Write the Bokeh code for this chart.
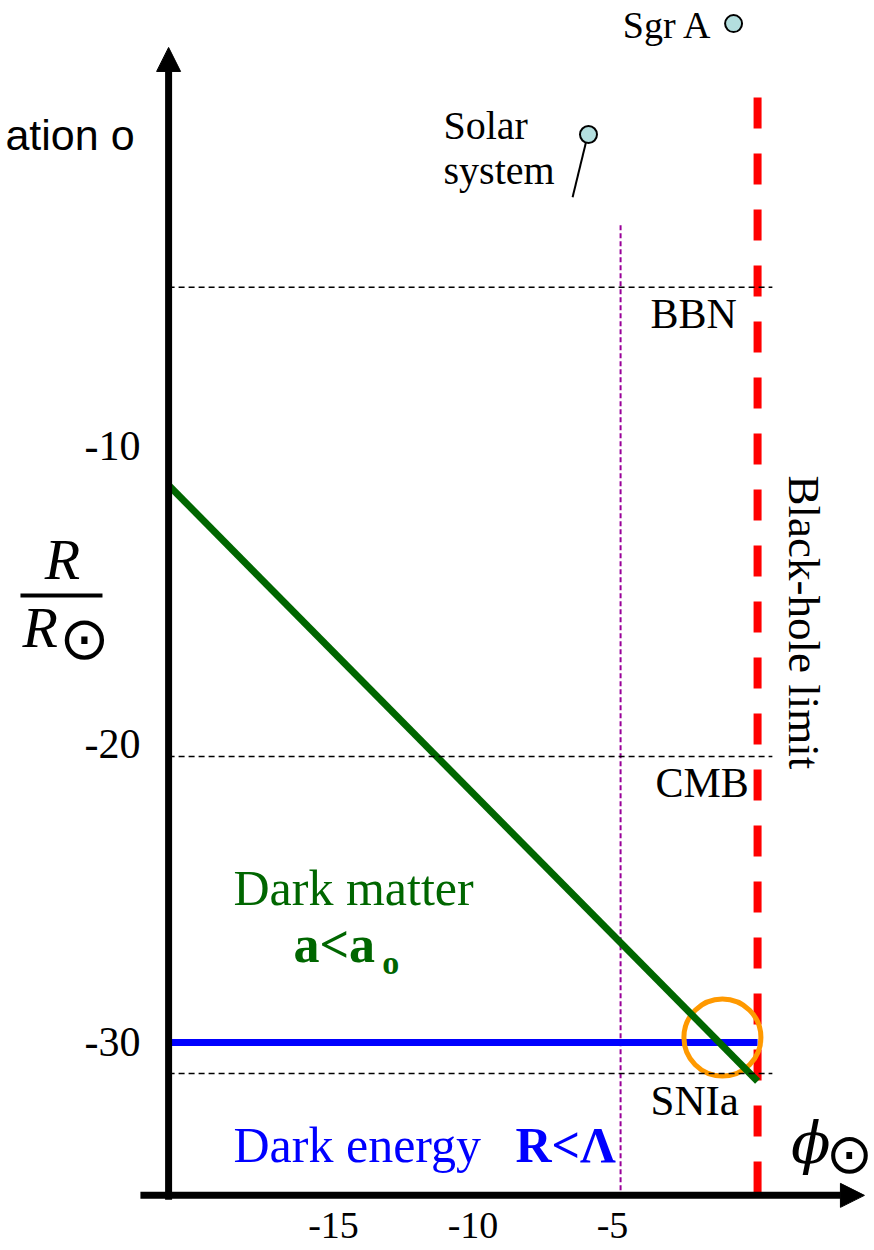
from bokeh.plotting import figure
from bokeh.models import Arrow, NormalHead, LinearAxis, FixedTicker, Label
from bokeh.embed import file_html
from bokeh.resources import INLINE

# ---------------- data ----------------
Y_TICKS = [-30, -20, -10]
Y_TICK_LABELS = ["-30", "-20", "-10"]
X_TICKS = [-15, -10, -5]
X_TICK_LABELS = ["-15", "-10", "-5"]

EPOCH_NAMES = ["BBN", "CMB", "SNIa"]
EPOCH_LEVELS = [-4.66, -20.40, -31.04]

DM_PHI = [-20.91, 0.2]          # dark matter line (phi)
DM_R = [-11.3, -31.3]           # dark matter line (R)
DE_PHI = [-20.91, 0.2]          # dark energy line
DE_R = [-30.0, -30.0]

BH_PHI = 0.2                    # black-hole limit
BH_TOP = 1.71
MAG_PHI = -4.71                 # magenta dotted line
MAG_TOP = -2.58

OBJ_NAMES = ["Sgr A", "Solar system"]
OBJ_PHI = [-0.66, -5.86]
OBJ_R = [4.19, 0.47]

CROSS_PHI = [-1.06]
CROSS_R = [-29.83]

AXIS_PHI = -20.91               # location of vertical axis
AXIS_R = -35.13                 # location of horizontal axis
EPOCH_END = 0.73

# ---------------- figure ----------------
PX_X = 27.9   # pixels per phi unit
PX_Y = 29.8   # pixels per R unit
p = figure(width=874, height=1250, x_range=(-26.935, 4.391), y_range=(-36.98, 4.966),
           output_backend="svg", toolbar_location=None,
           x_axis_type=None, y_axis_type=None, min_border=0)
p.outline_line_color = None
p.background_fill_color = "white"
p.border_fill_color = "white"

SERIF = "Liberation Serif"

# axes with tick labels only
yax = LinearAxis(fixed_location=AXIS_PHI, ticker=FixedTicker(ticks=Y_TICKS),
                 major_label_overrides={t: l for t, l in zip(Y_TICKS, Y_TICK_LABELS)},
                 axis_line_color=None, major_tick_line_color=None, minor_tick_line_color=None,
                 major_label_text_font=SERIF, major_label_text_font_size="42px",
                 major_label_text_color="black", major_label_standoff=22)
p.add_layout(yax, "left")
xax = LinearAxis(fixed_location=AXIS_R, ticker=FixedTicker(ticks=X_TICKS),
                 major_label_overrides={t: l for t, l in zip(X_TICKS, X_TICK_LABELS)},
                 axis_line_color=None, major_tick_line_color=None, minor_tick_line_color=None,
                 major_label_text_font=SERIF, major_label_text_font_size="38px",
                 major_label_text_color="black", major_label_standoff=12)
p.add_layout(xax, "below")

# red dashed black-hole limit
p.line([BH_PHI, BH_PHI], [BH_TOP, AXIS_R], line_color="#ff0000", line_width=8, line_dash="31 25")

# magenta dotted line
p.line([MAG_PHI, MAG_PHI], [MAG_TOP, AXIS_R], line_color="#990099", line_width=2, line_dash="5 3")

# dark energy
p.line(DE_PHI, DE_R, line_color="#0000ff", line_width=7)
# orange crossing circle
p.scatter(CROSS_PHI, CROSS_R, marker="circle", size=77, fill_color=None,
          line_color="#ff9900", line_width=5)
# dark matter
p.line(DM_PHI, DM_R, line_color="#006600", line_width=7)

# epoch dotted lines
for lev in EPOCH_LEVELS:
    p.line([AXIS_PHI, EPOCH_END], [lev, lev], line_color="black", line_width=1.5, line_dash="6 4")

# objects
p.line([OBJ_PHI[1] - 0.04, -6.43], [OBJ_R[1] - 0.07, -1.64], line_color="black", line_width=2)
p.scatter(OBJ_PHI, OBJ_R, marker="circle", size=17, fill_color="#b3dede",
          line_color="black", line_width=2)

# axes lines with arrows
p.add_layout(Arrow(end=NormalHead(size=24, fill_color="black", line_color="black", line_width=1),
                   x_start=AXIS_PHI, y_start=AXIS_R - 0.15, x_end=AXIS_PHI, y_end=3.39,
                   line_color="black", line_width=7))
p.add_layout(Arrow(end=NormalHead(size=24, fill_color="black", line_color="black", line_width=1),
                   x_start=-21.92, y_start=AXIS_R, x_end=4.03, y_end=AXIS_R,
                   line_color="black", line_width=7))

K = 0.31  # baseline correction (fraction of font size)


def lab(x, y, text, size, color="black", font=SERIF, style="normal",
        align="left", baseline="alphabetic", angle=0):
    if baseline == "alphabetic":
        if angle == 0:
            y = y + K * size / PX_Y
        else:
            x = x + K * size / PX_X
    p.add_layout(Label(x=x, y=y, text=text, text_font=font, text_font_size=f"{size}px",
                       text_color=color, text_font_style=style, text_align=align,
                       text_baseline=baseline, angle=angle))


# epoch labels
lab(-3.638, -6.007, EPOCH_NAMES[0], 42)
lab(-3.459, -21.745, EPOCH_NAMES[1], 42)
lab(-3.638, -32.383, EPOCH_NAMES[2], 43)

# object labels
lab(-1.416, 3.758, OBJ_NAMES[0], 38, align="right")
lab(-11.057, 0.369, "Solar", 40)
lab(-11.057, -1.141, "system", 40)

# black-hole limit
lab(1.38, -10.973, "Black-hole limit", 45, angle=-1.5707963)

# dark matter / energy labels
lab(-18.584, -25.336, "Dark matter", 50, color="#006600")
lab(-16.434, -27.248, "a<a", 52, color="#006600", style="bold")
lab(-13.25, -27.685, "o", 34, color="#006600", style="bold")
lab(-18.584, -33.96, "Dark energy", 50, color="#0000ff")
lab(-8.477, -33.96, "R<\u039b", 50, color="#0000ff", style="bold")

# text at top-left (partly cut in the original)
lab(-22.13, 0.0, "ation o", 43, font="Liberation Sans", align="right")

# y label R / R_sun
lab(-24.713, -14.396, "R", 58, style="italic", align="center")
p.line([-26.219, -23.28], [-15.0, -15.0], line_color="black", line_width=4)
lab(-26.147, -16.678, "R", 58, style="italic")
lab(-23.925, -16.41, "\u2299", 60, font="DejaVu Sans", align="center", baseline="middle")

# x label phi_sun
lab(1.40, -33.96, "\u03d5", 58, font="DejaVu Serif", style="italic")
lab(3.495, -33.725, "\u2299", 56, font="DejaVu Sans", align="center", baseline="middle")

open("out.html", "w").write(file_html(p, INLINE))
